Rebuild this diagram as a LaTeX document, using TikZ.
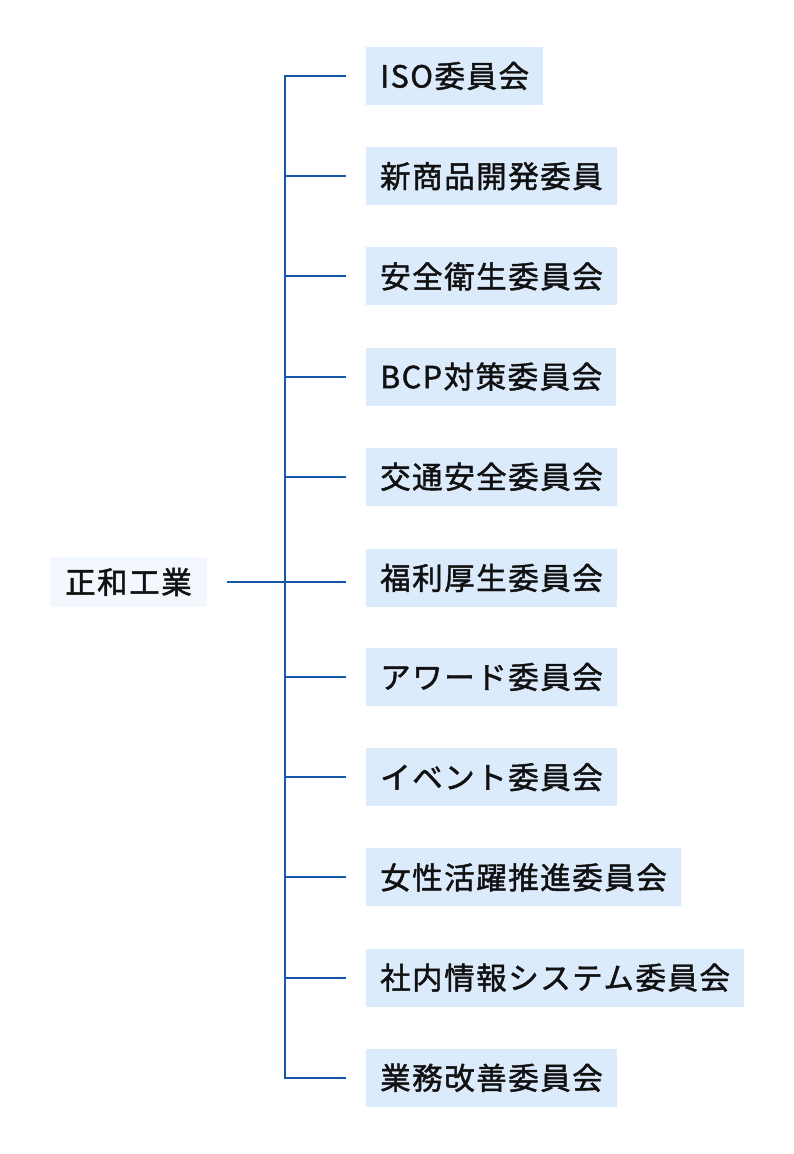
\documentclass[tikz,border=0pt]{standalone}
\usepackage{fontspec}
\newfontfamily\jp{Noto Sans CJK JP}[LetterSpace=5,FakeBold=1.5]
\definecolor{linecol}{HTML}{1558A8}
\definecolor{boxcol}{HTML}{DCEBFC}
\definecolor{maincol}{HTML}{F2F8FE}
\definecolor{txtcol}{HTML}{111111}
\begin{document}
\begin{tikzpicture}[x=1pt,y=-1pt,
  committee/.style={fill=boxcol, anchor=west, minimum height=58pt, inner xsep=14pt, inner ysep=0pt,
    font=\jp\fontsize{30.5pt}{36pt}\selectfont, text=txtcol},
  company/.style={committee, fill=maincol, minimum height=50pt, inner xsep=15pt},
  conn/.style={draw=linecol, line width=2pt, line join=miter}]
\useasboundingbox (0,0) rectangle (794,1154);
\coordinate (tx) at (285,0);
\node[company] (main) at (50,582) {正和工業};
\node[committee] (b1) at (366,76) {ISO委員会};
\node[committee] (b2) at (366,176.2) {新商品開発委員};
\node[committee] (b3) at (366,276.4) {安全衛生委員会};
\node[committee] (b4) at (366,376.6) {BCP対策委員会};
\node[committee] (b5) at (366,476.8) {交通安全委員会};
\node[committee] (b6) at (366,578) {福利厚生委員会};
\node[committee] (b7) at (366,677) {アワード委員会};
\node[committee] (b8) at (366,777.2) {イベント委員会};
\node[committee] (b9) at (366,877.4) {女性活躍推進委員会};
\node[committee] (b10) at (366,977.6) {社内情報システム委員会};
\node[committee] (b11) at (366,1077.8) {業務改善委員会};
\draw[conn] ([xshift=-20pt]b1.west) -- (b1.west -| tx) -- (b11.west -| tx) -- ([xshift=-20pt]b11.west);
\foreach \b in {b2,b3,b4,b5,b7,b8,b9,b10}
  \draw[conn] (\b.west -| tx) -- ([xshift=-20pt]\b.west);
\draw[conn] ([xshift=20pt]main.east) -- ([xshift=-20pt]main.east -| b6.west);
\end{tikzpicture}
\end{document}
